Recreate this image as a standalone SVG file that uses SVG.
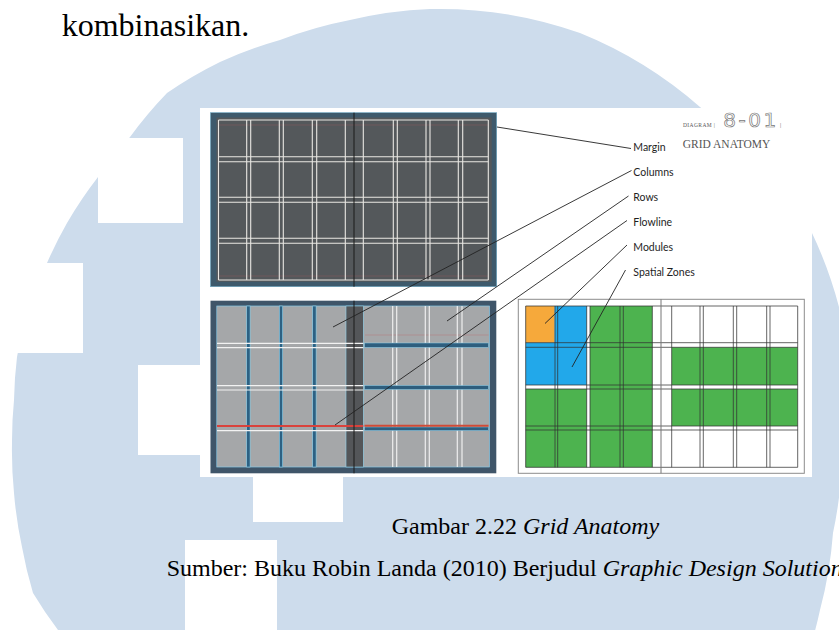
<svg xmlns="http://www.w3.org/2000/svg" width="839" height="630" viewBox="0 0 839 630">
  <style>
    .serif{font-family:"Liberation Serif","Times New Roman",serif;fill:#000}
    .lbl{font-family:"Lato","Open Sans",sans-serif;font-size:10.5px;fill:#1e1e1e}
    .lead{stroke:#222;stroke-width:0.9;fill:none}
    .gl{stroke:#e9e7e3;stroke-width:1.1;fill:none}
    .gut{fill:#2d6183;stroke:#8fd4ef;stroke-width:0.6}
    .bar{fill:#2e5e7e;stroke:#8fd4ef;stroke-width:0.5}
    .mod{stroke:#333;stroke-width:1;fill:none;opacity:0.75}
    .green{fill:#4db34f}
  </style>

  <!-- page background and watermark -->
  <rect width="839" height="630" fill="#fff"/>
  <path fill="#cddcec" d="M430,9 A420,420 0 0 1 580,33 A420,420 0 0 1 700,107 A420,420 0 0 1 770,175 A420,420 0 0 1 812,233 A420,420 0 0 1 839,307 A420,420 0 0 1 847,380 A420,420 0 0 1 842,460 A420,420 0 0 1 833,533 A420,420 0 0 1 820,610 A420,420 0 0 1 806,660 L75,660 L58,630 A420,420 0 0 1 33,593 A420,420 0 0 1 22,547 A420,420 0 0 1 14,493 A420,420 0 0 1 12,443 A420,420 0 0 1 14,400 A420,420 0 0 1 17,357 A420,420 0 0 1 30,305 A420,420 0 0 1 47,263 A420,420 0 0 1 67,223 A420,420 0 0 1 98,177 A420,420 0 0 1 130,137 A420,420 0 0 1 167,93 A420,420 0 0 1 220,62 A420,420 0 0 1 280,40 A420,420 0 0 1 350,20 A420,420 0 0 1 430,9 Z"/>
  <g fill="#fff">
    <rect x="98" y="138" width="85" height="85"/>
    <rect x="0" y="263" width="83" height="90"/>
    <rect x="138" y="365" width="90" height="90"/>
    <rect x="253" y="432" width="90" height="90"/>
    <rect x="185" y="540" width="92" height="95"/>
  </g>

  <text class="serif" x="61.7" y="36" font-size="32">kombinasikan.</text>

  <!-- figure sheet -->
  <rect x="200" y="108" width="612" height="369" fill="#fff"/>

  <!-- spread 1: margins, columns, rows -->
  <g id="grid-full">
    <rect x="210.5" y="112.7" width="286.2" height="174" fill="#3e5a6c" stroke="#6aa6c2" stroke-width="0.6"/>
    <rect x="216.5" y="117.5" width="275.2" height="164.2" fill="#54585b"/>
    <path stroke="#8c5c5c" stroke-width="0.7" opacity="0.7" d="M218.5,125H488.3 M218.5,276H488.3"/>
    <path class="gl" d="M218.5,120V280 M246.7,120V280 M250.7,120V280 M279.3,120V280 M283.3,120V280 M312.3,120V280 M316.7,120V280 M345.3,120V280 M363.3,120V280 M393.3,120V280 M397.3,120V280 M426,120V280 M430,120V280 M458.3,120V280 M462.7,120V280 M488.3,120V280"/>
    <path class="gl" d="M218.5,120H488.3 M218.5,156.7H488.3 M218.5,161.7H488.3 M218.5,197.3H488.3 M218.5,202.3H488.3 M218.5,238.3H488.3 M218.5,243.3H488.3 M218.5,280H488.3"/>
    <path stroke="#1a1a1a" stroke-width="1" d="M354,112.7V286.7"/>
  </g>

  <!-- spread 2: columns, rows, flowline -->
  <g id="grid-columns-rows">
    <rect x="210.5" y="300.7" width="285.8" height="172.6" fill="#3f5569"/>
    <rect x="216.8" y="306" width="272.7" height="161" fill="#a5a7a9" stroke="#86c8e4" stroke-width="0.7"/>
    <path stroke="#c06060" stroke-width="0.6" opacity="0.5" d="M365,335H488.5"/>
    <rect class="gut" x="246.7" y="306" width="3.4" height="161"/>
    <rect class="gut" x="279.3" y="306" width="3.4" height="161"/>
    <rect class="gut" x="312.7" y="306" width="3.4" height="161"/>
    <rect x="346" y="306" width="17.3" height="161" fill="#545659" stroke="#8fd4ef" stroke-width="0.6"/>
    <path stroke="#f2f2f2" stroke-width="1.2" d="M217,343.3H363.3 M217,347.7H363.3 M217,385.7H363.3 M217,390H363.3 M217,430.7H363.3"/>
    <path stroke="#d9423c" stroke-width="2.2" d="M217,426H363.3"/>
    <path stroke="#eeeeee" stroke-width="1.2" d="M392.7,306V467 M396.7,306V467 M425.3,306V467 M429.3,306V467 M457.3,306V467 M462,306V467"/>
    <rect class="bar" x="364.5" y="343" width="124" height="4.4"/>
    <rect class="bar" x="364.5" y="385.5" width="124" height="4"/>
    <rect class="bar" x="364.5" y="427" width="124" height="3.6"/>
    <path stroke="#cf4a36" stroke-width="2" d="M364.5,425.8H488.5"/>
    <path stroke="#1a1a1a" stroke-width="1" d="M354,300.7V473.3"/>
  </g>

  <!-- spread 3: modules and spatial zones -->
  <g id="grid-modules-zones">
    <rect x="518.3" y="299.3" width="286" height="174" fill="#fff" stroke="#8c8c8c" stroke-width="1"/>
    <rect x="525.7" y="306" width="28.9" height="36.7" fill="#f6a93b"/>
    <path fill="#22a8ea" d="M554.6,306H586.7V385H525.7V342.7H554.6Z"/>
    <rect class="green" x="590" y="306" width="62.3" height="161.3"/>
    <rect class="green" x="525.7" y="389" width="61" height="78.3"/>
    <rect class="green" x="671.7" y="347.3" width="126" height="37.7"/>
    <rect class="green" x="671.7" y="389" width="126" height="37"/>
    <path class="mod" d="M525.7,306V467.3 M555,306V467.3 M557.7,306V467.3 M586.7,306V467.3 M590,306V467.3 M620,306V467.3 M623.3,306V467.3 M652.3,306V467.3 M671.7,306V467.3 M700,306V467.3 M703.3,306V467.3 M733.3,306V467.3 M736.7,306V467.3 M766.7,306V467.3 M770,306V467.3 M797.7,306V467.3"/>
    <path class="mod" d="M525.7,306H797.7 M525.7,342.7H797.7 M525.7,347.3H797.7 M525.7,385H797.7 M525.7,389H797.7 M525.7,426H797.7 M525.7,430H797.7 M525.7,467.3H797.7"/>
    <path stroke="#777" stroke-width="1" d="M661,299.3V473.3"/>
  </g>

  <!-- title block -->
  <g id="diagram-title">
    <text x="683" y="126.7" font-family="Liberation Serif, serif" font-size="5.5" letter-spacing="0.4" fill="#555">DIAGRAM |</text>
    <text x="723.3" y="126.7" font-family="DejaVu Sans, sans-serif" font-size="20" letter-spacing="2.5" fill="#fff" stroke="#777" stroke-width="0.7">8-01</text>
    <text x="780" y="126.7" font-family="Liberation Serif, serif" font-size="6" fill="#555">|</text>
    <text x="682.7" y="148.3" font-family="Liberation Serif, serif" font-size="11.5" fill="#555">GRID ANATOMY</text>
  </g>

  <!-- leader lines -->
  <g id="connectors">
    <line class="lead" x1="497" y1="127" x2="631" y2="148.5"/>
    <line class="lead" x1="333" y1="327" x2="631.5" y2="170.5"/>
    <line class="lead" x1="447" y1="321" x2="628.5" y2="196"/>
    <line class="lead" x1="335" y1="425" x2="627" y2="220.5"/>
    <line class="lead" x1="545" y1="323.5" x2="627" y2="245"/>
    <line class="lead" x1="572" y1="367" x2="625.5" y2="270"/>
  </g>

  <g id="label-margin"><text class="lbl" x="633.3" y="151">Margin</text></g>
  <g id="label-columns"><text class="lbl" x="633.3" y="176">Columns</text></g>
  <g id="label-rows"><text class="lbl" x="633.3" y="201">Rows</text></g>
  <g id="label-flowline"><text class="lbl" x="633.3" y="226">Flowline</text></g>
  <g id="label-modules"><text class="lbl" x="633.3" y="251">Modules</text></g>
  <g id="label-spatial-zones"><text class="lbl" x="633.3" y="276">Spatial Zones</text></g>

  <!-- caption -->
  <text class="serif" x="391.7" y="534" font-size="24">Gambar 2.22 <tspan font-style="italic">Grid Anatomy</tspan></text>
  <text class="serif" x="166.7" y="576" font-size="24">Sumber:  Buku Robin Landa (2010) Berjudul <tspan font-style="italic">Graphic Design Solutions</tspan></text>
</svg>
